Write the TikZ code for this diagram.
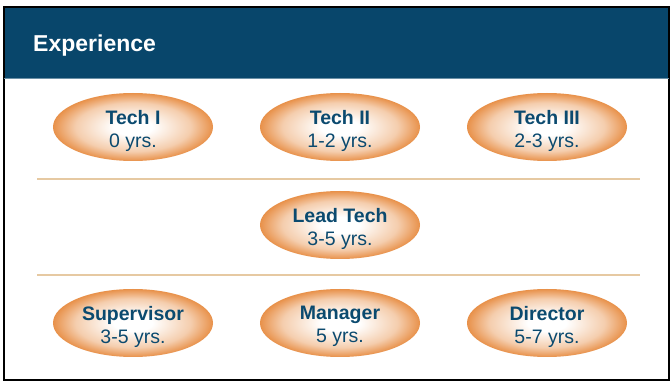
\documentclass[tikz,border=0pt]{standalone}
\usepackage{fontspec}
\setmainfont{Liberation Sans}
\usetikzlibrary{shapes.geometric}
\definecolor{hdr}{HTML}{08466B}
\definecolor{txt}{HTML}{0B4A6F}
\definecolor{org}{HTML}{E8914A}
\definecolor{rule}{HTML}{E6C9A2}
\colorlet{orgmid}{org!45!white}
\pgfdeclareradialshading{pillshade}{\pgfpoint{0bp}{0bp}}{color(0bp)=(white); color(6bp)=(white); color(18bp)=(orgmid); color(25bp)=(org); color(50bp)=(org)}
\tikzset{
  pill/.style={ellipse, minimum width=160pt, minimum height=68pt, inner sep=0pt,
    shading=pillshade},
  pilltext/.style={align=center, text=txt, inner sep=0pt, yshift=-3.5pt,
    font=\fontsize{19.5}{23}\selectfont},
  sep/.style={draw=rule, line width=1.3pt}
}
\begin{document}
\begin{tikzpicture}[x=1pt,y=-1pt]
\useasboundingbox (0,0) rectangle (670,382);
\fill[white] (0,0) rectangle (670,382);
\node[fill=hdr, minimum width=666pt, minimum height=71pt, anchor=north west, inner sep=0pt] (head) at (4,7) {};
\node[anchor=west, inner sep=0pt, text=white, font=\fontsize{23}{27}\selectfont\bfseries] (title) at (33,46) {Experience};
\draw[line width=1.5pt, black] (4,7) rectangle (669,380);
\draw[hdr!60!white, line width=0.8pt] (4,78.5) -- (669,78.5);
\coordinate (l1a) at (37,179); \coordinate (l1b) at (640,179);
\coordinate (l2a) at (37,275); \coordinate (l2b) at (640,275);
\draw[sep] (l1a) -- (l1b);
\draw[sep] (l2a) -- (l2b);
\node[pill] (t1) at (133,127) {};
\node[pill] (t2) at (340,127) {};
\node[pill] (t3) at (547,127) {};
\node[pill] (lt) at (340,225) {};
\node[pill] (sv) at (133,323) {};
\node[pill] (mg) at (340,323) {};
\node[pill] (dr) at (547,323) {};
\node[pilltext] (t1t) at (t1.center) {\textbf{Tech I}\\0 yrs.};
\node[pilltext] (t2t) at (t2.center) {\textbf{Tech II}\\1-2 yrs.};
\node[pilltext] (t3t) at (t3.center) {\textbf{Tech III}\\2-3 yrs.};
\node[pilltext] (ltt) at (lt.center) {\textbf{Lead Tech}\\3-5 yrs.};
\node[pilltext] (svt) at (sv.center) {\textbf{Supervisor}\\3-5 yrs.};
\node[pilltext] (mgt) at (mg.center) {\textbf{Manager}\\5 yrs.};
\node[pilltext] (drt) at (dr.center) {\textbf{Director}\\5-7 yrs.};
\end{tikzpicture}
\end{document}
